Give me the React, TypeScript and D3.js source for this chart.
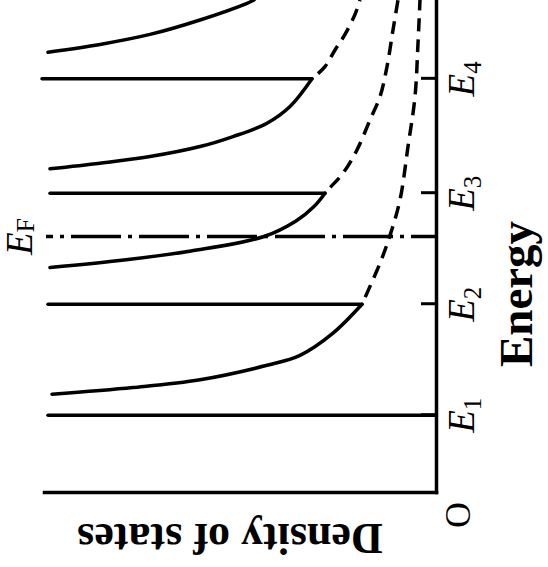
import React, { useEffect, useRef } from 'react';
import * as d3 from 'd3';

// subband edges E1..E4 and Fermi level (arbitrary energy units)
const levels = [0.7, 1.7, 2.7, 3.73];
const levelNames = ['1', '2', '3', '4'];
const fermi = 2.31;

// where each vertical step is cut off (arbitrary DOS units)
const stepTops = [3.88, 3.88, 3.86, 3.94];

// total density of states, [energy, dos] (solid)
const band1 = [[0.89, 3.84], [0.95, 3.03], [1.02, 2.36], [1.15, 1.69], [1.24, 1.36], [1.44, 1.03], [1.7, 0.74]];
const band2 = [[2.03, 3.86], [2.1, 3.1], [2.18, 2.45], [2.31, 1.72], [2.45, 1.4], [2.58, 1.22], [2.7, 1.11]];
const band3 = [[2.92, 3.86], [2.97, 3.36], [3.03, 2.86], [3.12, 2.36], [3.21, 2.03], [3.33, 1.69], [3.48, 1.46], [3.73, 1.24]];
const band4 = [[3.97, 3.88], [4.04, 3.36], [4.13, 2.86], [4.26, 2.36], [4.41, 1.89], [4.44, 1.82]];

// continuation without the next subband (dashed)
const tail1 = [[1.7, 0.74], [2.07, 0.56], [2.32, 0.46], [2.64, 0.36], [3.12, 0.28], [3.57, 0.21], [4.05, 0.18], [4.44, 0.16]];
const tail2 = [[2.7, 1.11], [2.75, 1.06], [2.88, 0.93], [3.09, 0.79], [3.36, 0.66], [3.57, 0.56], [3.84, 0.49], [4.17, 0.43], [4.44, 0.38]];
const tail3 = [[3.73, 1.24], [3.84, 1.11], [3.99, 1.01], [4.13, 0.91], [4.31, 0.81], [4.44, 0.76]];

const App = () => {
  const ref = useRef<SVGSVGElement>(null);

  useEffect(() => {
    const svg = d3.select(ref.current);
    svg.selectAll('*').remove();

    const font = "'Liberation Serif', 'Times New Roman', serif";
    const sw = 3.5;

    // the figure is turned a quarter turn: energy runs up, DOS runs left
    const g = svg.append('g').attr('transform', 'translate(436,493) rotate(-90)');

    const x = d3.scaleLinear().domain([0, 4.44]).range([0, 493]);
    const y = d3.scaleLinear().domain([0, 3.92]).range([0, -392]);

    const xAxis = g.append('g')
      .call(d3.axisBottom(x).tickValues(levels).tickSize(-15).tickSizeOuter(0).tickFormat(() => ''));
    const yAxis = g.append('g')
      .call(d3.axisLeft(y).tickValues([]).tickSizeOuter(0));
    [xAxis, yAxis].forEach(a => {
      a.select('.domain').attr('stroke', '#000').attr('stroke-width', sw).attr('stroke-linecap', 'square');
      a.selectAll('.tick line').attr('stroke', '#000').attr('stroke-width', 3);
    });

    const line = d3.line<number[]>()
      .x(d => x(d[0]))
      .y(d => y(d[1]))
      .curve(d3.curveCatmullRom.alpha(0.5));

    // vertical steps at each subband edge
    const bands = [band1, band2, band3, band4];
    levels.forEach((e, i) => {
      const bottom = i === 0 ? 0 : bands[i - 1][bands[i - 1].length - 1][1];
      g.append('line')
        .attr('x1', x(e)).attr('x2', x(e))
        .attr('y1', y(bottom)).attr('y2', y(stepTops[i]))
        .attr('stroke', '#000').attr('stroke-width', sw).attr('stroke-linecap', 'round');
    });

    g.selectAll('.band')
      .data(bands)
      .enter()
      .append('path')
      .attr('class', 'band')
      .attr('d', d => line(d))
      .attr('fill', 'none')
      .attr('stroke', '#000')
      .attr('stroke-width', sw)
      .attr('stroke-linecap', 'round')
      .attr('stroke-linejoin', 'round');

    g.selectAll('.tail')
      .data([tail1, tail2, tail3])
      .enter()
      .append('path')
      .attr('class', 'tail')
      .attr('d', d => line(d))
      .attr('fill', 'none')
      .attr('stroke', '#000')
      .attr('stroke-width', sw)
      .attr('stroke-dasharray', '13,8')
      .attr('stroke-dashoffset', 13);

    // Fermi level
    g.append('line')
      .attr('x1', x(fermi)).attr('x2', x(fermi))
      .attr('y1', y(0)).attr('y2', y(3.9))
      .attr('stroke', '#000')
      .attr('stroke-width', sw)
      .attr('stroke-dasharray', '50,7,4,7')
      .attr('stroke-dashoffset', 25);

    // labels
    levels.forEach((e, i) => {
      const t = g.append('text')
        .attr('x', x(e)).attr('y', 38)
        .attr('text-anchor', 'middle')
        .attr('font-family', font)
        .attr('font-size', 37);
      t.append('tspan').attr('font-style', 'italic').text('E');
      t.append('tspan').attr('font-size', 25).attr('dy', 7).text(levelNames[i]);
    });

    const ef = g.append('text')
      .attr('x', x(fermi)).attr('y', -404)
      .attr('text-anchor', 'middle')
      .attr('font-family', font)
      .attr('font-size', 37);
    ef.append('tspan').attr('font-style', 'italic').text('E');
    ef.append('tspan').attr('font-size', 26).attr('dy', 2).text('F');

    g.append('text')
      .attr('x', 199).attr('y', 96)
      .attr('text-anchor', 'middle')
      .attr('font-family', font)
      .attr('font-weight', 'bold')
      .attr('font-size', 47)
      .text('Energy');

    g.append('text')
      .attr('transform', 'translate(-31,-206) rotate(-90)')
      .attr('text-anchor', 'middle')
      .attr('font-family', font)
      .attr('font-weight', 'bold')
      .attr('font-size', 44)
      .text('Density of states');

    g.append('text')
      .attr('x', -22).attr('y', 34)
      .attr('text-anchor', 'middle')
      .attr('font-family', font)
      .attr('font-size', 36)
      .text('O');
  }, []);

  return (
    <svg
      ref={ref}
      width={548}
      height={567}
      style={{ position: 'absolute', left: 0, top: 0, background: '#fff' }}
    />
  );
};

export default App;
